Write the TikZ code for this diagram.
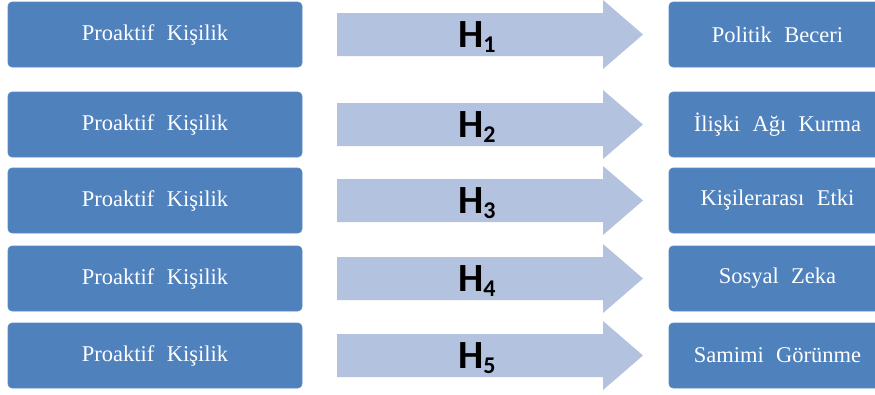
\documentclass[tikz,border=0pt]{standalone}
\usepackage{fontspec}
\setmainfont{Liberation Serif}[WordSpace=2.2]
\newfontfamily\hfont{Carlito}
\definecolor{boxblue}{HTML}{4F81BD}
\definecolor{boxedge}{HTML}{5B8CC4}
\definecolor{arrowblue}{HTML}{B3C3DF}
\tikzset{
  bluebox/.style={rectangle, rounded corners=4pt, fill=boxblue, draw=boxedge, line width=0.6pt,
    minimum height=65pt, text=white, inner sep=0pt, font=\fontsize{22.5}{26}\selectfont},
  leftbox/.style={bluebox, minimum width=294pt},
  rightbox/.style={bluebox, minimum width=217pt},
  blockarrow/.style={fill=arrowblue},
  hlabel/.style={anchor=base west, inner sep=0pt, text=black, font=\hfont\bfseries\fontsize{40}{40}\selectfont}
}
\begin{document}
\begin{tikzpicture}[x=1pt,y=-1pt]
\clip (0,0) rectangle (875,394);
\useasboundingbox (0,0) rectangle (875,394);
\foreach \i/\c/\t in {1/34.5/Politik Beceri, 2/124.5/İlişki Ağı Kurma, 3/200.5/Kişilerarası Etki, 4/278.5/Sosyal Zeka, 5/355.5/Samimi Görünme}{
  \node[leftbox] (L\i) at (155,\c) {Proaktif Kişilik};
  \node[rightbox] (R\i) at (777.5,\c) {\t};
  \fill[blockarrow] (337,\c-21.5) -- (603,\c-21.5) -- (603,\c-34.5) -- (643,\c) -- (603,\c+34.5) -- (603,\c+21.5) -- (337,\c+21.5) -- cycle;
  \node[hlabel] (H\i) at (458,\c+13) {H\raisebox{-5pt}{\hfont\bfseries\fontsize{24}{24}\selectfont \i}};
}
\end{tikzpicture}
\end{document}
